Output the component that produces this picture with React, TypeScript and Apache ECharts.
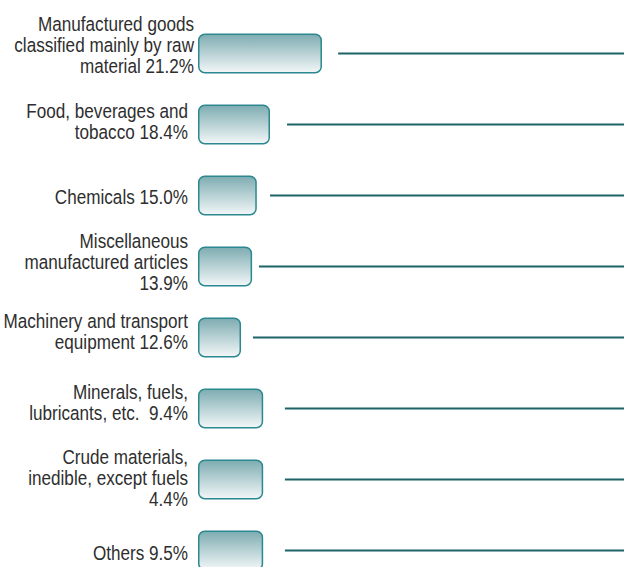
import React, { useEffect, useRef } from "react";
import * as echarts from "echarts";

const categories = [
  "Manufactured goods\nclassified mainly by raw\nmaterial",
  "Food, beverages and\ntobacco",
  "Chemicals",
  "Miscellaneous\nmanufactured articles",
  "Machinery and transport\nequipment",
  "Minerals, fuels,\nlubricants, etc. ",
  "Crude materials,\ninedible, except fuels",
  "Others",
];
const shares = [21.2, 18.4, 15.0, 13.9, 12.6, 9.4, 4.4, 9.5];
const separators = [" ", " ", " ", "\n", " ", " ", "\n", " "];
// bar lengths as drawn (axis units, 0-100)
const barValues = [29.1, 16.9, 13.8, 12.7, 10.1, 15.3, 15.3, 15.3];
// leader line start positions (axis units)
const lineStarts = [32.9, 20.9, 16.9, 14.3, 12.9, 20.4, 20.4, 20.4];
const labelOffsets = [
  [6, -8.5],
  [0, -3],
  [0, 1.5],
  [0, -4.5],
  [0, -5.5],
  [0, -5.5],
  [0, -1.5],
  [0, 2.5],
];

const FONT_FAMILY = "'Liberation Sans', Arial, sans-serif";

export default function App() {
  const ref = useRef<HTMLDivElement>(null);
  useEffect(() => {
    document.body.style.margin = "0";
    const chart = echarts.init(ref.current!, null, { renderer: "svg" });
    const labels = categories.map((c, i) => c + separators[i] + shares[i].toFixed(1) + "%");
    chart.setOption({
      animation: false,
      grid: { left: 198, right: 0, top: 17.9, height: 568 },
      xAxis: { type: "value", min: 0, max: 100, show: false },
      yAxis: {
        type: "category",
        data: labels,
        inverse: true,
        show: false,
      },
      series: [
        {
          type: "bar",
          barWidth: 40,
          data: barValues,
          itemStyle: {
            color: new echarts.graphic.LinearGradient(0, 0, 0, 1, [
              { offset: 0, color: "#7dacb1" },
              { offset: 1, color: "#f3f7f8" },
            ]),
            borderColor: "#2b8890",
            borderWidth: 1.5,
            borderRadius: 6,
          },
        },
        {
          type: "custom",
          data: lineStarts.map((s, i) => [s, 100, i]),
          encode: { x: [0, 1], y: 2 },
          renderItem: (params: any, api: any) => {
            const a = api.coord([api.value(0), api.value(2)]);
            const b = api.coord([api.value(1), api.value(2)]);
            return {
              type: "line",
              shape: { x1: a[0], y1: a[1], x2: b[0], y2: b[1] },
              style: { stroke: "#1d6367", lineWidth: 2 },
            };
          },
        },
      ],
    });
    const texts = labels.map((t, i) => {
      const p = chart.convertToPixel({ gridIndex: 0 }, [0, i]) as number[];
      return {
        type: "text",
        x: p[0] - 10 + labelOffsets[i][0],
        y: p[1] + labelOffsets[i][1],
        scaleX: 0.835,
        style: {
          text: t,
          align: "right",
          verticalAlign: "middle",
          fill: "#2e2e2e",
          fontFamily: FONT_FAMILY,
          fontSize: 20.5,
          lineHeight: 21,
        },
      };
    });
    chart.setOption({ graphic: texts });
    return () => chart.dispose();
  }, []);
  return (
    <div style={{ width: 624, height: 567, overflow: "hidden" }}>
      <div ref={ref} style={{ width: 624, height: 600 }} />
    </div>
  );
}
